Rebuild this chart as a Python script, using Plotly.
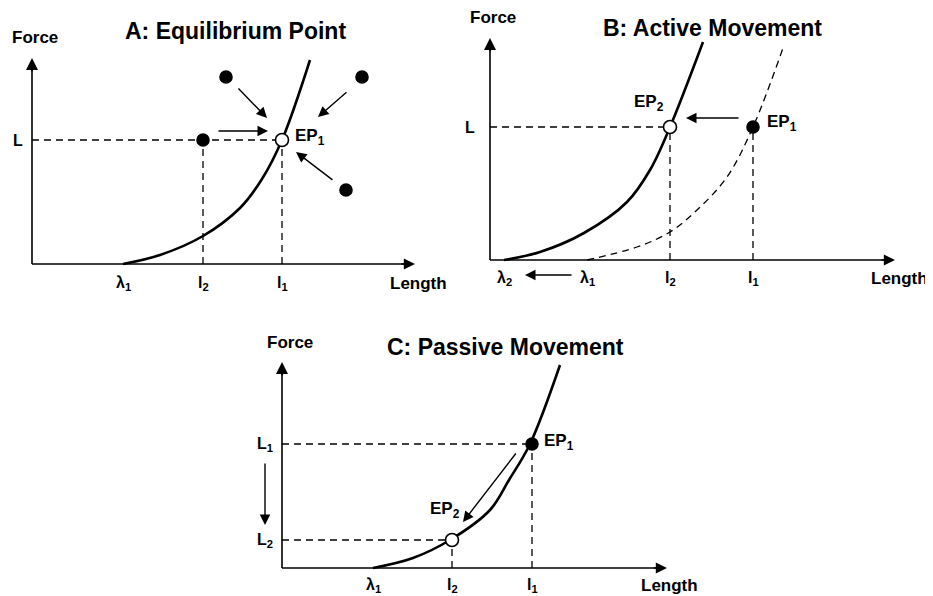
import plotly.graph_objects as go

FONT = "Liberation Sans"

# ---------------- data (in Length / Force units) ----------------
# Panel A: Equilibrium Point
a_curve_x = [9.1, 12.8, 17.1, 20.8, 23.0, 25.0, 27.8]
a_curve_y = [0.0, 0.9, 2.8, 5.6, 8.5, 12.4, 20.4]
a_lambda1, a_l2, a_l1, a_L = 9.1, 17.1, 25.0, 12.4
a_dots_x = [19.4, 33.0, 17.1, 31.4]
a_dots_y = [18.7, 18.7, 12.4, 7.4]
a_arrow_from_x = [20.5, 31.6, 18.5, 30.2]
a_arrow_from_y = [17.7, 17.3, 13.3, 8.3]
a_arrow_to_x = [23.5, 28.6, 23.6, 26.4]
a_arrow_to_y = [14.6, 14.7, 13.3, 11.2]

# Panel B: Active Movement
b_solid_x = [1.4, 5.0, 9.4, 13.7, 16.0, 18.0, 21.3]
b_solid_y = [0.0, 0.8, 2.7, 5.8, 9.0, 13.3, 21.8]
b_dash_x = [9.7, 14.7, 18.0, 20.7, 23.7, 26.3, 29.3]
b_dash_y = [0.0, 1.3, 2.8, 5.0, 8.3, 13.3, 21.2]
b_lambda2, b_lambda1, b_l2, b_l1, b_L = 1.4, 9.7, 18.0, 26.3, 13.3

# Panel C: Passive Movement
c_curve_x = [9.1, 13.1, 16.8, 20.8, 22.7, 24.8, 27.8]
c_curve_y = [0.0, 1.0, 2.8, 5.8, 8.8, 12.4, 20.3]
c_lambda1, c_l2, c_l1, c_L1, c_L2 = 9.1, 17.0, 25.0, 12.4, 2.8

# ---------------- layout helpers ----------------
OFF = 8                      # browser body margin
W, H = 933 - OFF, 596 - OFF  # figure size inside the window
S = 10.0                     # px per unit
# panel: (origin px x, origin px y, box x0, x1, y0, y1) in window pixels
panels = {
    "": (32, 264, 8, 460, 8, 300),
    "2": (490, 260, 460, 933, 8, 300),
    "3": (282, 568, 240, 720, 310, 596),
}

fig = go.Figure()
layout = dict(width=W, height=H, margin=dict(l=0, r=0, t=0, b=0),
              paper_bgcolor="white", plot_bgcolor="white", showlegend=False)
for k, (ox, oy, x0, x1, y0, y1) in panels.items():
    layout["xaxis" + k] = dict(domain=[(x0 - OFF) / W, (x1 - OFF) / W],
                               range=[(x0 - ox) / S, (x1 - ox) / S],
                               visible=False, fixedrange=True, anchor="y" + k)
    layout["yaxis" + k] = dict(domain=[1 - (y1 - OFF) / H, 1 - (y0 - OFF) / H],
                               range=[(oy - y1) / S, (oy - y0) / S],
                               visible=False, fixedrange=True, anchor="x" + k)
fig.update_layout(**layout)

annos = []
DASH = dict(color="black", width=1.3, dash="7px,5px")


def ax_refs(k):
    return "x" + k, "y" + k


def line(k, xs, ys, **kw):
    xr, yr = ax_refs(k)
    fig.add_trace(go.Scatter(x=xs, y=ys, mode="lines", xaxis=xr, yaxis=yr,
                             hoverinfo="skip", **kw))


def curve(k, xs, ys, dash=None, width=2.6):
    d = dict(color="black", width=width, shape="spline", smoothing=1.0)
    if dash:
        d["dash"] = dash
    line(k, xs, ys, line=d)


def arrow(k, fx, fy, tx, ty, head=2, width=1.4, size=1.5):
    xr, yr = ax_refs(k)
    annos.append(dict(x=tx, y=ty, ax=fx, ay=fy, xref=xr, yref=yr, axref=xr, ayref=yr,
                      text="", showarrow=True, arrowhead=head, arrowwidth=width,
                      arrowsize=size, arrowcolor="black", standoff=0, startstandoff=0))


def text(k, x, y, s, size=16, xanchor="center", yanchor="middle"):
    xr, yr = ax_refs(k)
    annos.append(dict(x=x, y=y, xref=xr, yref=yr, text=s, showarrow=False,
                      xanchor=xanchor, yanchor=yanchor,
                      font=dict(family=FONT, size=size, color="black", weight="bold")))


def dots(k, xs, ys, filled=True, size=12):
    xr, yr = ax_refs(k)
    fig.add_trace(go.Scatter(x=xs, y=ys, mode="markers", xaxis=xr, yaxis=yr, hoverinfo="skip",
                             marker=dict(size=size, color="black" if filled else "white",
                                         line=dict(color="black", width=1.6))))


def axes(k, xtip, ytip):
    line(k, [0, xtip - 0.5], [0, 0], line=dict(color="black", width=1.6))
    line(k, [0, 0], [0, ytip - 0.5], line=dict(color="black", width=1.6))
    arrow(k, xtip - 1.5, 0, xtip, 0, head=2, width=1.6, size=1.4)
    arrow(k, 0, ytip - 1.5, 0, ytip, head=2, width=1.6, size=1.5)


TS, LS, TK = 23, 17, 16  # title, axis-label, tick-label sizes

# ---------------- Panel A ----------------
k = ""
axes(k, 38.3, 20.6)
line(k, [0, a_l1], [a_L, a_L], line=DASH)
line(k, [a_l2, a_l2], [0, a_L], line=DASH)
line(k, [a_l1, a_l1], [0, a_L], line=DASH)
curve(k, a_curve_x, a_curve_y)
dots(k, a_dots_x, a_dots_y)
dots(k, [a_l1], [a_L], filled=False, size=13)
for fx, fy, tx, ty in zip(a_arrow_from_x, a_arrow_from_y, a_arrow_to_x, a_arrow_to_y):
    arrow(k, fx, fy, tx, ty)
text(k, 20.3, 23.3, "A: Equilibrium Point", size=TS)
text(k, 0.3, 22.7, "Force", size=LS)
text(k, 38.6, -1.9, "Length", size=LS)
text(k, -1.4, a_L, "L", size=TK)
text(k, a_lambda1, -1.9, "λ<sub>1</sub>", size=TK)
text(k, a_l2, -1.9, "l<sub>2</sub>", size=TK)
text(k, a_l1, -1.9, "l<sub>1</sub>", size=TK)
text(k, 26.1, 12.7, "EP<sub>1</sub>", size=LS, xanchor="left")

# ---------------- Panel B ----------------
k = "2"
axes(k, 40.5, 22.2)
line(k, [0, b_l2], [b_L, b_L], line=DASH)
line(k, [b_l2, b_l2], [0, b_L], line=DASH)
line(k, [b_l1, b_l1], [0, b_L], line=DASH)
curve(k, b_dash_x, b_dash_y, dash="7px,5px", width=1.3)
curve(k, b_solid_x, b_solid_y)
dots(k, [b_l1], [b_L])
dots(k, [b_l2], [b_L], filled=False, size=13)
arrow(k, 25.0, 14.2, 19.6, 14.2)
arrow(k, 8.3, -1.5, 3.5, -1.5)
text(k, 22.2, 23.2, "B: Active Movement", size=TS)
text(k, 0.3, 24.3, "Force", size=LS)
text(k, 40.9, -1.8, "Length", size=LS)
text(k, -2.0, b_L, "L", size=TK)
text(k, b_lambda2, -1.8, "λ<sub>2</sub>", size=TK)
text(k, b_lambda1, -1.8, "λ<sub>1</sub>", size=TK)
text(k, b_l2, -1.8, "l<sub>2</sub>", size=TK)
text(k, b_l1, -1.8, "l<sub>1</sub>", size=TK)
text(k, 14.2, 15.7, "EP<sub>2</sub>", size=LS, xanchor="left")
text(k, 27.5, 13.7, "EP<sub>1</sub>", size=LS, xanchor="left")

# ---------------- Panel C ----------------
k = "3"
axes(k, 38.5, 20.6)
line(k, [0, c_l1], [c_L1, c_L1], line=DASH)
line(k, [0, c_l2], [c_L2, c_L2], line=DASH)
line(k, [c_l2, c_l2], [0, c_L2], line=DASH)
line(k, [c_l1, c_l1], [0, c_L1], line=DASH)
curve(k, c_curve_x, c_curve_y)
dots(k, [c_l1], [c_L1])
dots(k, [c_l2], [c_L2], filled=False, size=13)
arrow(k, 23.5, 11.6, 18.1, 4.6)
arrow(k, -1.7, 10.6, -1.7, 4.3)
text(k, 22.3, 22.1, "C: Passive Movement", size=TS)
text(k, 0.8, 22.6, "Force", size=LS)
text(k, 38.7, -1.7, "Length", size=LS)
text(k, -1.7, c_L1, "L<sub>1</sub>", size=TK)
text(k, -1.7, c_L2, "L<sub>2</sub>", size=TK)
text(k, c_lambda1, -1.7, "λ<sub>1</sub>", size=TK)
text(k, c_l2, -1.7, "l<sub>2</sub>", size=TK)
text(k, c_l1, -1.7, "l<sub>1</sub>", size=TK)
text(k, 26.0, 12.6, "EP<sub>1</sub>", size=LS, xanchor="left")
text(k, 14.6, 5.8, "EP<sub>2</sub>", size=LS, xanchor="left")

fig.update_layout(annotations=annos)
fig.write_html("out.html")
